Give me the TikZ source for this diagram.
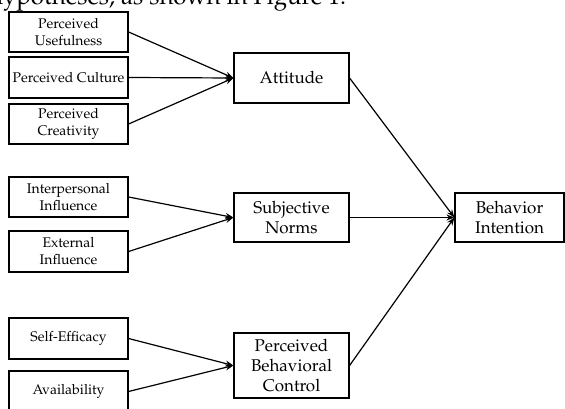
\documentclass[tikz,border=0pt]{standalone}
\usepackage[T1]{fontenc}
\usepackage{mathpazo}
\usepackage{tikz}
\usetikzlibrary{positioning, arrows.meta}

\begin{document}
\begin{tikzpicture}[
    x=1pt, y=-1pt,
    item/.style={rectangle, draw=black, line width=1.2pt, minimum width=119pt,
                minimum height=41pt, inner sep=0pt, align=center,
                font=\fontsize{14}{17}\selectfont},
    cons/.style={rectangle, draw=black, line width=1.2pt, minimum width=115pt,
                minimum height=50pt, inner sep=0pt, align=center,
                font=\fontsize{17}{20}\selectfont},
    link/.style={line width=1.2pt},
    >={Stealth[length=8pt, width=6pt]}
  ]
  \useasboundingbox (0,0) rectangle (565,409);

  % Text above the figure
  \node[anchor=base west, inner sep=0pt, font=\fontsize{24}{28}\selectfont]
    (cap) at (-11,5) {hypotheses, as shown in Figure 1.};

  % Antecedents
  \node[item, minimum height=40pt] (pu) at (68.5,32) {Perceived\\Usefulness};
  \node[item] (pcu) at (68.5,77.5) {Perceived Culture};
  \node[item, minimum height=40pt] (pcr) at (68.5,124) {Perceived\\Creativity};
  \node[item, minimum height=40pt] (ii) at (68.5,197) {Interpersonal\\Influence};
  \node[item] (ei) at (68.5,251.5) {External\\Influence};
  \node[item] (se) at (68.5,338.5) {Self-Efficacy};
  \node[item] (av) at (68.5,391.5) {Availability};

  % Constructs
  \node[cons] (att) at (291.5,78) {Attitude};
  \node[cons, minimum height=49pt] (sn) at (291.5,217.5) {Subjective\\Norms};
  \node[cons, minimum height=65pt] (pbc) at (291.5,365.5)
    {Perceived\\Behavioral\\Control};
  \node[cons, minimum width=109pt, minimum height=49pt] (bi) at (509.5,217.5)
    {Behavior\\Intention};

  % Paths
  \draw[link, ->] (pu.east) -- (att.west);
  \draw[link, ->] (pcu.east) -- (att.west);
  \draw[link, ->] (pcr.east) -- (att.west);
  \draw[link, ->] (ii.east) -- (sn.west);
  \draw[link, ->] (ei.east) -- (sn.west);
  \draw[link, ->] (se.east) -- (pbc.west);
  \draw[link, ->] (av.east) -- (pbc.west);
  \draw[link, ->] (att.east) -- (bi.west);
  \draw[link, ->] (sn.east) -- (bi.west);
  \draw[link, ->] (pbc.east) -- (bi.west);
\end{tikzpicture}
\end{document}
